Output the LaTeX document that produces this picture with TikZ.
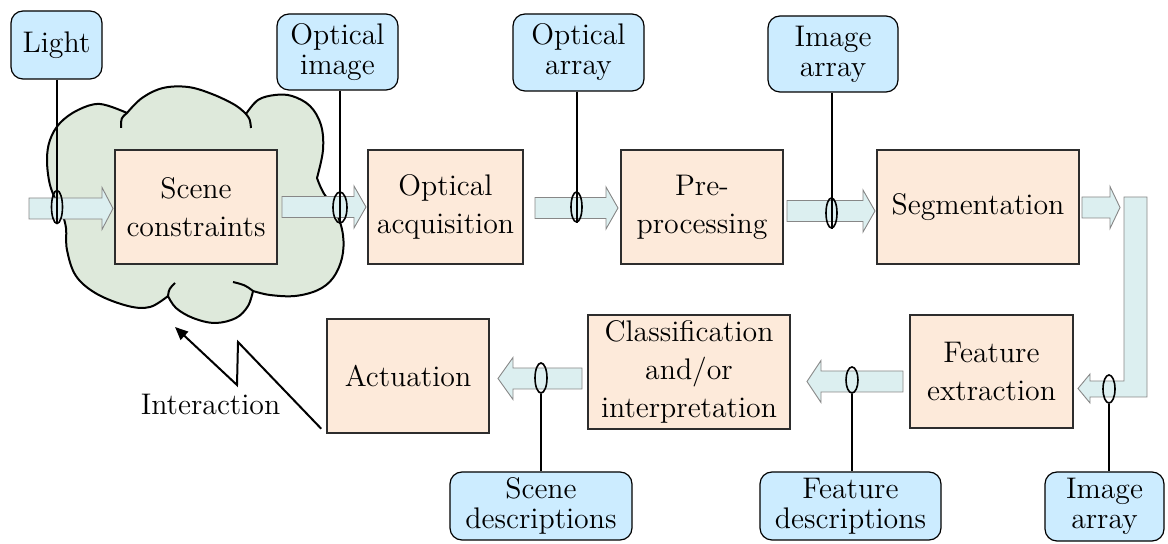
\documentclass[tikz,border=0pt]{standalone}
\usetikzlibrary{arrows.meta,calc,shapes.geometric}

\definecolor{procfill}{RGB}{253,234,218}
\definecolor{labelfill}{RGB}{204,236,255}
\definecolor{flowfill}{RGB}{220,239,240}
\definecolor{flowline}{RGB}{135,135,135}
\definecolor{cloudfill}{RGB}{222,233,219}
\definecolor{boxline}{RGB}{45,45,45}

\tikzset{
  proc/.style={draw=boxline, line width=0.75pt, fill=procfill, minimum height=57pt,
    align=center, inner sep=0pt, font=\fontsize{14.9}{19}\selectfont},
  tag/.style={draw=black, line width=0.6pt, fill=labelfill, rounded corners=6pt,
    align=center, inner sep=0pt, font=\fontsize{14.9}{15}\selectfont},
  ring/.style={draw=black, line width=0.8pt, ellipse, inner sep=0pt},
  flow/.style={draw=flowline, line width=0.45pt, fill=flowfill},
  stem/.style={draw=black, line width=1pt},
  fold/.style={draw=black, line width=1pt},
}

% block arrow: shaft start, head base, tip, centre line
\newcommand\flowarrow[4]{%
  \filldraw[flow] (#1,#4-10.5) -- (#2,#4-10.5) -- (#2,#4-21) -- (#3,#4)
    -- (#2,#4+21) -- (#2,#4+10.5) -- (#1,#4+10.5) -- cycle;}

\begin{document}
\begin{tikzpicture}[x=0.5pt, y=-0.5pt]
\useasboundingbox (0,0) rectangle (1168,544);

% cloud around the scene
\path[draw=black, line width=1pt, fill=cloudfill, line join=round]
  plot[smooth, tension=0.6] coordinates {(58,205) (50,185) (47,160) (50,140) (60,123) (78,110) (100,104) (127,113)}
  -- plot[smooth, tension=0.6] coordinates {(127,113) (142,98) (163,88) (188,87) (212,94) (235,105) (246,114)}
  -- plot[smooth, tension=0.6] coordinates {(246,114) (258,100) (275,95) (292,96) (310,106) (321,125) (323,150) (317,178)}
  -- plot[smooth, tension=0.6] coordinates {(317,178) (323,192) (336,212) (343,235) (342,258) (333,278) (318,290) (295,296) (270,295) (253,291)}
  -- plot[smooth, tension=0.6] coordinates {(253,291) (248,306) (236,318) (215,323) (193,318) (176,308) (168,296)}
  -- plot[smooth, tension=0.6] coordinates {(168,296) (150,307) (128,306) (97,294) (76,276) (67,250) (66,228) (62,212)}
  -- cycle;
\draw[fold] (127,113) .. controls (121,118) .. (121,128);
\draw[fold] (246,114) .. controls (250,119) .. (251,128);
\draw[fold] (253,291) .. controls (245,285) .. (233,282);
\draw[fold] (168,296) .. controls (169,289) .. (175,283);

% processing stages
\node[proc, minimum width=81pt]   (sc)  at (196,207)     {Scene\\constraints};
\node[proc, minimum width=77.5pt] (oa)  at (445.5,207)   {Optical\\acquisition};
\node[proc, minimum width=81pt]   (pp)  at (702,207)     {Pre-\\processing};
\node[proc, minimum width=101pt]  (seg) at (978,207)     {Segmentation};
\node[proc, minimum width=81.5pt, minimum height=56.5pt] (fe) at (991.5,371.5) {Feature\\extraction};
\node[proc, minimum width=101pt]  (cl)  at (689,372)     {Classification\\and/or\\interpretation};
\node[proc, minimum width=81pt]   (act) at (408,376)     {Actuation};

% data labels
\node[tag, minimum width=45.5pt, minimum height=34pt]   (light) at (56.5,45)    {Light};
\node[tag, minimum width=60.5pt, minimum height=38pt]   (oi)    at (337.5,52)   {Optical\\image};
\node[tag, minimum width=65.5pt, minimum height=38.5pt] (oar)   at (578.5,52.5) {Optical\\array};
\node[tag, minimum width=65pt,   minimum height=38pt]   (ia1)   at (833,54)     {Image\\array};
\node[tag, minimum width=91pt,   minimum height=34pt]   (sd)    at (541,506)    {Scene\\descriptions};
\node[tag, minimum width=90.5pt, minimum height=34pt]   (fd)    at (850.5,506)  {Feature\\descriptions};
\node[tag, minimum width=59.5pt, minimum height=34.5pt] (ia2)   at (1104.5,506.5) {Image\\array};

% data flow
\flowarrow{29}{102}{113}{208.5}
\flowarrow{282}{354}{366}{207}
\flowarrow{535}{606}{618}{208}
\flowarrow{787}{863}{875}{211}
\flowarrow{1082}{1110}{1120}{207.5}
\filldraw[flow] (1124,197) -- (1147,197) -- (1147,397) -- (1090,397) -- (1090,403)
  -- (1078,388.5) -- (1090,374) -- (1090,381) -- (1124,381) -- cycle;
\flowarrow{903}{821}{807}{381.5}
\flowarrow{582}{513}{498}{378.5}

% rings marking the data on each flow
\node[ring, minimum width=5.5pt, minimum height=16.5pt] (r1) at (57,207)    {};
\node[ring, minimum width=7pt,   minimum height=15.5pt] (r2) at (340,207.5) {};
\node[ring, minimum width=5.5pt, minimum height=15pt]   (r3) at (576.5,207) {};
\node[ring, minimum width=5.5pt, minimum height=15pt]   (r4) at (831.5,213) {};
\node[ring, minimum width=6pt,   minimum height=14pt]   (r5) at (1109,389)  {};
\node[ring, minimum width=6pt,   minimum height=13pt]   (r6) at (852,380)   {};
\node[ring, minimum width=6pt,   minimum height=15pt]   (r7) at (541,378)   {};

\draw[stem] (light.south -| r1.south) -- (r1.south);
\draw[stem] (oi.south -| r2.south)    -- (r2.south);
\draw[stem] (oar.south -| r3.south)   -- (r3.south);
\draw[stem] (ia1.south -| r4.south)   -- (r4.south);
\draw[stem] (r5.south) -- (r5.south |- ia2.north);
\draw[stem] (r6.south) -- (r6.south |- fd.north);
\draw[stem] (r7.south) -- (r7.south |- sd.north);

% interaction back onto the scene
\coordinate (hit) at (175,327);
\draw[line width=1pt, -{Triangle[length=6.5pt,width=5.5pt]}]
  ($(act.south west)+(-5,-5)$) -- (238,342) -- (237,385) -- (hit);
\node[anchor=base, inner sep=0pt, font=\fontsize{14.9}{19}\selectfont] (inter) at (210.5,415) {Interaction};
\end{tikzpicture}
\end{document}
